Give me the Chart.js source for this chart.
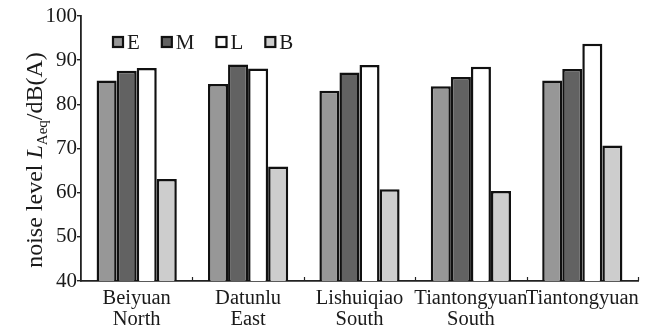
<!DOCTYPE html>
<html>
<head>
<meta charset="utf-8">
<script src="https://cdn.jsdelivr.net/npm/chart.js@4"></script>
<style>
  html, body { margin: 0; padding: 0; background: #fff; }
  #wrap { width: 672px; height: 334px; }
</style>
</head>
<body>
<div id="wrap"><canvas id="c" width="672" height="334"></canvas></div>
<script>
// Measurement sites (two-line labels)
const sites = [
  ['Beiyuan', 'North'],
  ['Datunlu', 'East'],
  ['Lishuiqiao', 'South'],
  ['Tiantongyuan', 'South'],
  'Tiantongyuan'
];

// Equivalent sound level L_Aeq, dB(A), per period
const seriesE = [85.4, 84.6, 83.1, 84.1, 85.4];
const seriesM = [87.6, 89.0, 87.2, 86.2, 88.0];
const seriesL = [88.2, 88.1, 88.9, 88.5, 93.7];
const seriesB = [63.1, 65.9, 60.8, 60.4, 70.7];

const seriesNames = ['E', 'M', 'L', 'B'];
const seriesColors = ['#979797', '#626262', '#ffffff', '#cdcdcd'];

const yTicks = [40, 50, 60, 70, 80, 90, 100];

const FONT = '"Liberation Serif", "Times New Roman", serif';
const INK = '#1a1a1a';

// Legend drawn as a single row inside the plot, near the top-left
const innerLegend = {
  id: 'innerLegend',
  afterDraw(chart) {
    const { ctx, chartArea } = chart;
    const box = 10;
    let x = chartArea.left + 32;
    const yc = chartArea.top + 26;
    ctx.save();
    ctx.font = '21px ' + FONT;
    ctx.textBaseline = 'middle';
    ctx.textAlign = 'left';
    chart.data.datasets.forEach(ds => {
      ctx.fillStyle = ds.backgroundColor;
      ctx.fillRect(x, yc - box / 2, box, box);
      ctx.lineWidth = 2.2;
      ctx.strokeStyle = '#111';
      ctx.strokeRect(x, yc - box / 2, box, box);
      ctx.fillStyle = INK;
      ctx.fillText(ds.label, x + box + 4, yc + 1);
      x += box + 4 + ctx.measureText(ds.label).width + 22;
    });
    ctx.restore();
  }
};

// Small inward ticks on the category axis at group boundaries
const categoryTicks = {
  id: 'categoryTicks',
  afterDraw(chart) {
    const { ctx } = chart;
    const xs = chart.scales.x;
    const yb = chart.scales.y.getPixelForValue(yTicks[0]);
    const step = xs.getPixelForValue(1) - xs.getPixelForValue(0);
    ctx.save();
    ctx.strokeStyle = '#222';
    ctx.lineWidth = 1.2;
    for (let i = 1; i <= sites.length; i++) {
      const px = Math.round(xs.getPixelForValue(i - 1) + step / 2) + 0.5;
      ctx.beginPath();
      ctx.moveTo(px, yb);
      ctx.lineTo(px, yb - 4);
      ctx.stroke();
    }
    ctx.restore();
  }
};

// Vertical axis title with italic L and subscript Aeq
const yTitle = {
  id: 'yTitle',
  afterDraw(chart) {
    const { ctx } = chart;
    const parts = [
      { t: 'noise level ', f: '24px ' + FONT, dy: 0 },
      { t: 'L', f: 'italic 24px ' + FONT, dy: 0 },
      { t: 'Aeq', f: '15px ' + FONT, dy: 5 },
      { t: '/dB(A)', f: '24px ' + FONT, dy: 0 }
    ];
    ctx.save();
    let total = 0;
    parts.forEach(p => { ctx.font = p.f; p.w = ctx.measureText(p.t).width; total += p.w; });
    const cy = 160;
    ctx.translate(42, cy);
    ctx.rotate(-Math.PI / 2);
    ctx.fillStyle = INK;
    ctx.textBaseline = 'alphabetic';
    let x = -total / 2;
    parts.forEach(p => {
      ctx.font = p.f;
      ctx.fillText(p.t, x, p.dy);
      x += p.w;
    });
    ctx.restore();
  }
};

const data = {
  labels: sites,
  datasets: [seriesE, seriesM, seriesL, seriesB].map((vals, i) => ({
    label: seriesNames[i],
    data: vals,
    backgroundColor: seriesColors[i],
    borderColor: '#111',
    borderWidth: 2.5,
    borderSkipped: 'bottom',
    barPercentage: 1.0,
    categoryPercentage: 0.72
  }))
};

new Chart(document.getElementById('c'), {
  type: 'bar',
  data,
  plugins: [innerLegend, categoryTicks, yTitle],
  options: {
    responsive: false,
    animation: false,
    devicePixelRatio: 1,
    layout: { padding: { left: 0, right: 34, top: 16, bottom: 0 } },
    plugins: {
      legend: { display: false },
      tooltip: { enabled: false }
    },
    scales: {
      x: {
        offset: true,
        grid: { display: false, drawTicks: false },
        border: { display: true, color: '#222', width: 1.8 },
        ticks: {
          color: INK,
          font: { family: FONT, size: 20.5, lineHeight: 1.03 },
          padding: 7,
          maxRotation: 0,
          autoSkip: false
        },
        afterFit(scale) { scale.height = 53; }
      },
      y: {
        min: 40,
        max: 100,
        afterBuildTicks(scale) { scale.ticks = yTicks.map(v => ({ value: v })); },
        grid: { display: true, drawOnChartArea: false, drawTicks: true, tickLength: 4, color: '#222', lineWidth: 1.4 },
        border: { display: true, color: '#222', width: 1.8 },
        ticks: {
          color: INK,
          font: { family: FONT, size: 21 },
          padding: 0
        },
        afterFit(scale) { scale.width = 81; }
      }
    }
  }
});
</script>
</body>
</html>
